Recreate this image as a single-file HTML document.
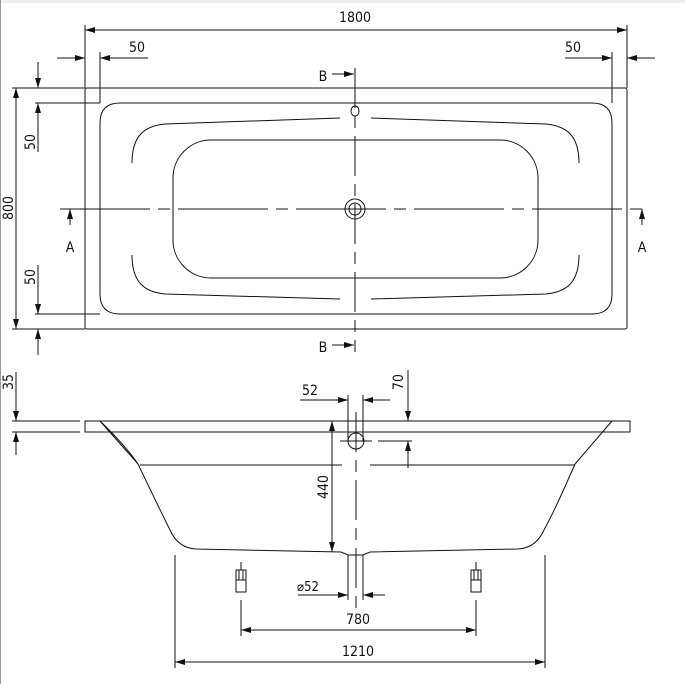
<!DOCTYPE html>
<html><head><meta charset="utf-8"><style>
html,body{margin:0;padding:0;background:#fff;}
svg{display:block}
text{font-family:"DejaVu Sans Condensed","Liberation Sans",sans-serif;font-size:14px;fill:#111}
</style></head><body>
<svg width="685" height="684" viewBox="0 0 685 684" xmlns="http://www.w3.org/2000/svg">
<defs>
<marker id="a" viewBox="0 0 10 6" refX="10" refY="3" markerWidth="10" markerHeight="6" orient="auto-start-reverse" markerUnits="userSpaceOnUse"><path d="M0,0 L10,3 L0,6z" fill="#111"/></marker>
</defs>
<rect x="0" y="0" width="685" height="3" fill="#eee"/>
<line x1="0.5" y1="0" x2="0.5" y2="684" stroke="#999"/>
<g stroke="#111" stroke-width="1" fill="none">
<!-- top view -->
<rect x="85" y="88" width="542" height="241" rx="2"/>
<path d="M120,103 H592 Q612,103 612,123 V294 Q612,314 592,314 H120 Q100,314 100,294 V123 Q100,103 120,103Z"/>
<path d="M132,163 C132,135 145,126 165,124 L340,118"/>
<path d="M132,255 C132,283 145,292 165,294 L340,299"/>
<path d="M579,163 C579,135 566,126 546,124 L371,118"/>
<path d="M579,255 C579,283 566,292 546,294 L371,299"/>
<rect x="173" y="140" width="365" height="138" rx="38"/>
<line x1="60" y1="209" x2="650" y2="209" stroke-dasharray="90,8,12,8"/>
<line x1="355" y1="68" x2="355" y2="352" stroke-dasharray="40,8,12,8"/>
<circle cx="355" cy="209" r="10"/><circle cx="355" cy="209" r="6"/>
<ellipse cx="355" cy="111" rx="4" ry="5"/>
<!-- 1800 -->
<line x1="85" y1="25" x2="85" y2="88"/><line x1="627" y1="25" x2="627" y2="88"/>
<line x1="85" y1="30" x2="627" y2="30" marker-start="url(#a)" marker-end="url(#a)"/>
<line x1="100" y1="52" x2="100" y2="103"/><line x1="612" y1="52" x2="612" y2="103"/>
<line x1="57" y1="58" x2="85" y2="58" marker-end="url(#a)"/>
<line x1="148" y1="58" x2="100" y2="58" marker-end="url(#a)"/>
<line x1="565" y1="58" x2="612" y2="58" marker-end="url(#a)"/>
<line x1="655" y1="58" x2="627" y2="58" marker-end="url(#a)"/>
<!-- left dims -->
<line x1="12" y1="88" x2="85" y2="88"/><line x1="35" y1="103" x2="100" y2="103"/>
<line x1="12" y1="329" x2="85" y2="329"/><line x1="35" y1="314" x2="100" y2="314"/>
<line x1="16" y1="88" x2="16" y2="329" marker-start="url(#a)" marker-end="url(#a)"/>
<line x1="38" y1="62" x2="38" y2="88" marker-end="url(#a)"/>
<line x1="38" y1="152" x2="38" y2="103" marker-end="url(#a)"/>
<line x1="38" y1="265" x2="38" y2="314" marker-end="url(#a)"/>
<line x1="38" y1="355" x2="38" y2="329" marker-end="url(#a)"/>
<!-- A markers -->
<line x1="70" y1="225" x2="70" y2="209" marker-end="url(#a)"/>
<line x1="642" y1="225" x2="642" y2="209" marker-end="url(#a)"/>
<line x1="332" y1="74" x2="354" y2="74" marker-end="url(#a)"/>
<line x1="332" y1="345" x2="354" y2="345" marker-end="url(#a)"/>
<!-- side view -->
<path d="M85,421 H630 V432 H85Z"/>
<line x1="12" y1="421" x2="80" y2="421"/><line x1="12" y1="432" x2="80" y2="432"/>
<line x1="16" y1="372" x2="16" y2="421" marker-end="url(#a)"/>
<line x1="16" y1="455" x2="16" y2="432" marker-end="url(#a)"/>
<line x1="100" y1="432" x2="615" y2="432" stroke-dasharray="6,4"/>
<path d="M100,421 L138,464 Q160,510 170,530 Q178,548 196,549 L341,552 L348,555 H363 L370,552 L518,549 Q536,548 544,530 Q555,510 575,464 L612,421"/>
<path d="M100,421 Q125,445 138,464"/>
<line x1="140" y1="465" x2="342" y2="465"/><line x1="370" y1="465" x2="575" y2="465"/>
<line x1="356" y1="412" x2="356" y2="610" stroke-dasharray="40,8,12,8"/>
<circle cx="356" cy="441" r="8"/>
<line x1="340" y1="441" x2="372" y2="441"/><line x1="378" y1="441" x2="412" y2="441"/>
<line x1="348" y1="395" x2="348" y2="441"/><line x1="363" y1="395" x2="363" y2="441"/>
<line x1="300" y1="400" x2="348" y2="400" marker-end="url(#a)"/>
<line x1="390" y1="400" x2="363" y2="400" marker-end="url(#a)"/>
<line x1="408" y1="370" x2="408" y2="421" marker-end="url(#a)"/>
<line x1="408" y1="468" x2="408" y2="441" marker-end="url(#a)"/>
<line x1="332" y1="421" x2="332" y2="552" marker-start="url(#a)" marker-end="url(#a)"/>
<line x1="348" y1="555" x2="348" y2="600"/><line x1="363" y1="555" x2="363" y2="600"/>
<line x1="298" y1="595" x2="348" y2="595" marker-end="url(#a)"/>
<line x1="385" y1="595" x2="363" y2="595" marker-end="url(#a)"/>
<!-- feet -->
<rect x="236" y="570" width="10" height="10"/><rect x="236" y="580" width="10" height="12"/>
<line x1="239" y1="570" x2="239" y2="580"/><line x1="243" y1="570" x2="243" y2="580"/>
<rect x="471" y="570" width="10" height="10"/><rect x="471" y="580" width="10" height="12"/>
<line x1="474" y1="570" x2="474" y2="580"/><line x1="478" y1="570" x2="478" y2="580"/>
<line x1="241" y1="562" x2="241" y2="570"/><line x1="476" y1="562" x2="476" y2="570"/>
<line x1="241" y1="600" x2="241" y2="636"/><line x1="476" y1="600" x2="476" y2="636"/>
<line x1="241" y1="630" x2="476" y2="630" marker-start="url(#a)" marker-end="url(#a)"/>
<line x1="175" y1="555" x2="175" y2="668"/><line x1="545" y1="555" x2="545" y2="668"/>
<line x1="175" y1="662" x2="545" y2="662" marker-start="url(#a)" marker-end="url(#a)"/>
</g>
<text x="355" y="22" text-anchor="middle">1800</text>
<text x="137" y="52" text-anchor="middle">50</text>
<text x="573" y="52" text-anchor="middle">50</text>
<text transform="translate(13,208) rotate(-90)" text-anchor="middle">800</text>
<text transform="translate(35,142) rotate(-90)" text-anchor="middle">50</text>
<text transform="translate(35,277) rotate(-90)" text-anchor="middle">50</text>
<text x="70" y="252" text-anchor="middle">A</text>
<text x="642" y="252" text-anchor="middle">A</text>
<text x="323" y="81" text-anchor="middle">B</text>
<text x="323" y="352" text-anchor="middle">B</text>
<text transform="translate(13,382) rotate(-90)" text-anchor="middle">35</text>
<text x="310" y="395" text-anchor="middle">52</text>
<text transform="translate(403,382) rotate(-90)" text-anchor="middle">70</text>
<text transform="translate(328,487) rotate(-90)" text-anchor="middle">440</text>
<text x="308" y="591" text-anchor="middle" style="font-size:13px">⌀52</text>
<text x="358" y="624" text-anchor="middle">780</text>
<text x="358" y="656" text-anchor="middle">1210</text>
</svg>
</body></html>
